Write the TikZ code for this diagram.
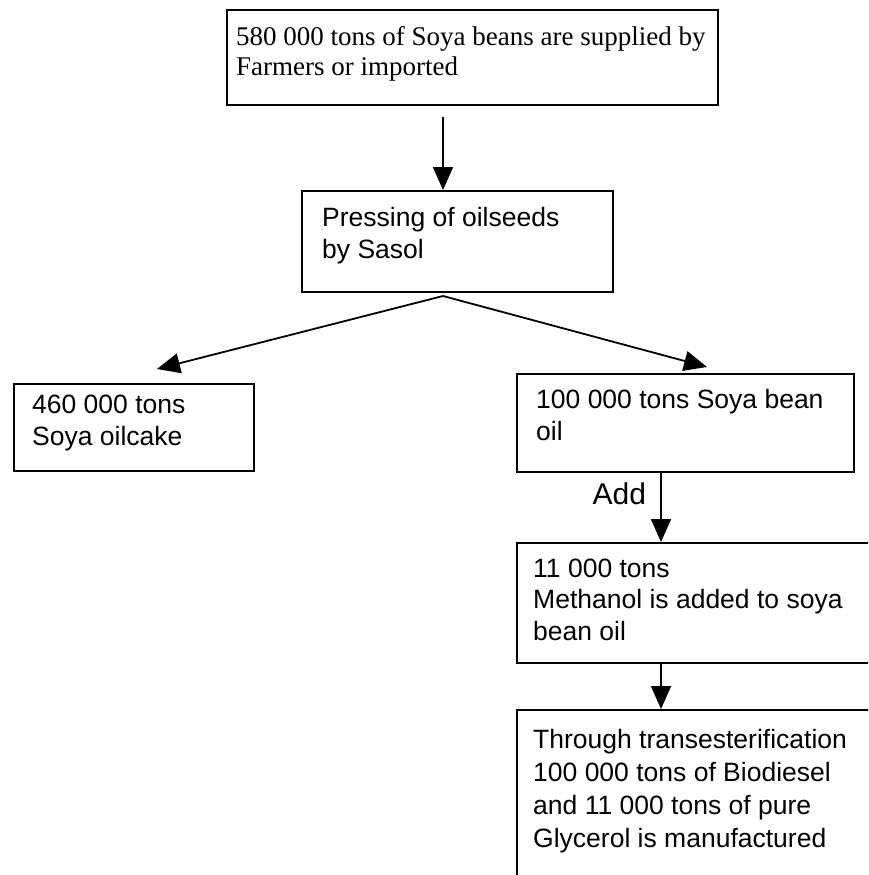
\documentclass[tikz,border=0pt]{standalone}
\usepackage{fontspec}
\setmainfont{Liberation Sans}
\newfontfamily\timesf{Liberation Serif}
\usetikzlibrary{arrows.meta}
\tikzset{
  boxS/.style={draw=black, line width=2pt, rectangle, inner sep=0pt, anchor=north west},
  txtS/.style={anchor=base west, inner sep=0pt, align=left, font=\fontsize{26.5}{31.5}\selectfont},
  arr/.style={line width=1.8pt, -{Triangle[length=23pt,width=20pt]}},
}
\begin{document}
\begin{tikzpicture}[x=1pt,y=-1pt]
\useasboundingbox (0,0) rectangle (868,875);
\clip (0,0) rectangle (868,875);
\fill[white] (0,0) rectangle (868,875);
% boxes
\node[boxS, minimum width=491pt, minimum height=95pt] (top) at (226,9) {};
\node[boxS, minimum width=311pt, minimum height=101pt] (press) at (301,190) {};
\node[boxS, minimum width=240pt, minimum height=87pt] (cake) at (13,383) {};
\node[boxS, minimum width=337pt, minimum height=98pt] (oil) at (516,373) {};
\node[boxS, minimum width=400pt, minimum height=120pt] (meth) at (516,542) {};
\node[boxS, minimum width=400pt, minimum height=250pt] (prod) at (516,709) {};
% texts (anchor at baseline of last line)
\node[txtS, font=\timesf\fontsize{27}{30}\selectfont] (topT) at (236,75) {580 000 tons of Soya beans are supplied by\\Farmers or imported};
\node[txtS] (pressT) at (322,258) {Pressing of oilseeds\\by Sasol};
\node[txtS] (cakeT) at (32,445) {460 000 tons\\Soya oilcake};
\node[txtS] (oilT) at (536,440) {100 000 tons Soya bean\\oil};
\node[txtS] (methT) at (533,640) {11 000 tons\\Methanol is added to soya\\bean oil};
\node[txtS, font=\fontsize{26.5}{33}\selectfont] (prodT) at (533,847) {Through transesterification\\100 000 tons of Biodiesel\\and 11 000 tons of pure\\Glycerol is manufactured};
% connectors
\coordinate (ax1) at (443,0);
\coordinate (ax2) at (661,0);
\coordinate (apex) at (443,296);
\coordinate (tipL) at (157,369);
\coordinate (tipR) at (707,367);
\draw[arr, shorten <=11pt] (top.south -| ax1) -- (press.north -| ax1);
\draw[arr] (apex) -- (tipL);
\draw[arr] (apex) -- (tipR);
\draw[arr] (oil.south -| ax2) -- node[pos=0.45, anchor=base east, inner sep=0pt, xshift=-14pt, font=\fontsize{30}{34}\selectfont] (addT) {Add} (meth.north -| ax2);
\draw[arr] (meth.south -| ax2) -- (prod.north -| ax2);
\end{tikzpicture}
\end{document}
